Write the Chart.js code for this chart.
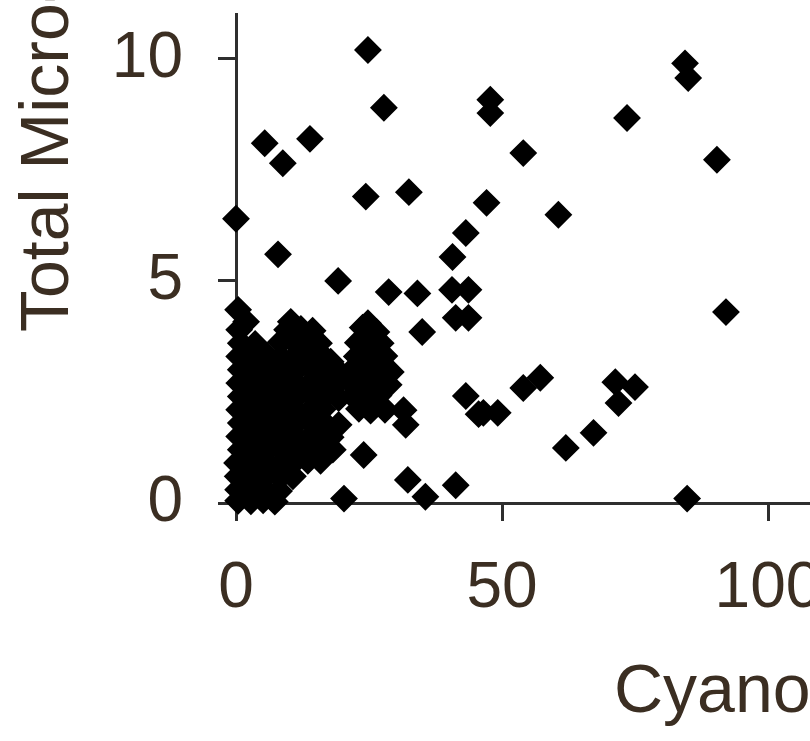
<!DOCTYPE html>
<html>
<head>
<meta charset="utf-8">
<script src="https://cdn.jsdelivr.net/npm/chart.js@4.4.0/dist/chart.umd.min.js"></script>
<style>
    html, body { margin: 0; padding: 0; background: #fff; overflow: hidden; }
    #marco { position: relative; width: 1100px; height: 741px; }
</style>
</head>
<body>
<div id="marco"><canvas id="graficoDispersion" width="1100" height="741"></canvas></div>
<script>
// Cianobacterias (eje X) y microcistina total (eje Y)
const cyano = [
    // puntos aislados
    24.8, 27.8, 5.4, 8.8, 13.9, 24.4, 32.5, 0.0, 7.9, 19.2,
    47.8, 47.8, 47.1, 43.2, 40.7, 28.7, 34.1, 40.6, 43.7, 41.3,
    43.7, 35.0, 84.4, 85.0, 73.5, 54.0, 90.4, 60.6, 92.1, 43.2,
    45.6, 46.5, 49.2, 54.0, 57.2, 71.3, 75.0, 71.9, 67.2, 62.0,
    84.8, 32.3, 35.6, 41.3, 31.5, 31.9, 24.0, 20.3,
    // nube cerca del origen
    0.4, 2.8, 5.1, 7.3,
    0.4, 2.8, 5.4, 8.1,
    0.3, 3.0, 5.6, 8.3, 10.7,
    0.2, 3.0, 5.6, 8.3, 10.9, 13.5, 15.9,
    0.9, 3.6, 6.2, 8.8, 11.4, 14.1, 16.7, 18.2,
    0.6, 3.2, 5.8, 8.4, 11.1, 13.7, 16.3, 17.8,
    0.9, 3.6, 6.2, 8.8, 11.4, 14.1, 16.7, 19.3,
    0.6, 3.2, 5.8, 8.4, 11.1, 13.7, 16.3, 23.1, 25.3, 28.0,
    0.9, 3.6, 6.2, 8.8, 11.4, 14.1, 16.7, 19.3, 22.0, 24.6, 26.8,
    0.6, 3.2, 5.8, 8.4, 11.1, 13.7, 16.3, 19.0, 21.6, 24.2, 26.8, 28.7,
    0.9, 3.6, 6.2, 8.8, 11.4, 14.1, 16.7, 19.3, 22.0, 24.6, 27.2, 29.1,
    0.6, 3.2, 5.8, 8.4, 11.1, 13.7, 16.3, 17.8, 22.7, 25.3, 27.9,
    0.9, 3.6, 8.4, 11.1, 13.7, 15.6, 22.9, 24.6, 27.2,
    0.6, 9.6, 12.2, 14.4, 23.8, 26.4, 24.8,
    0.4, 1.9, 10.3
];
const microcistina = [
    10.2, 8.9, 8.1, 7.65, 8.2, 6.9, 7.0, 6.4, 5.6, 5.0,
    9.08, 8.78, 6.76, 6.08, 5.54, 4.75, 4.72, 4.8, 4.8, 4.17,
    4.17, 3.85, 9.9, 9.57, 8.67, 7.88, 7.73, 6.49, 4.3, 2.41,
    2.0, 2.03, 2.03, 2.59, 2.82, 2.72, 2.61, 2.25, 1.58, 1.24,
    0.1, 0.52, 0.14, 0.4, 2.09, 1.76, 1.08, 0.1,
    0.05, 0.04, 0.06, 0.03,
    0.3, 0.28, 0.31, 0.27,
    0.6, 0.57, 0.62, 0.58, 0.6,
    0.9, 0.88, 0.91, 0.87, 0.92, 0.95, 0.95,
    1.2, 1.17, 1.22, 1.18, 1.2, 1.21, 1.17, 1.2,
    1.5, 1.47, 1.52, 1.48, 1.5, 1.46, 1.51, 1.48,
    1.8, 1.78, 1.82, 1.77, 1.8, 1.83, 1.79, 1.76,
    2.1, 2.07, 2.12, 2.08, 2.1, 2.06, 2.11, 2.12, 2.08, 2.1,
    2.4, 2.38, 2.42, 2.37, 2.4, 2.43, 2.39, 2.36, 2.41, 2.38, 2.42,
    2.7, 2.67, 2.72, 2.68, 2.7, 2.66, 2.71, 2.69, 2.72, 2.68, 2.7, 2.66,
    3.0, 2.97, 3.02, 2.98, 3.0, 3.03, 2.99, 2.96, 3.01, 2.98, 3.02, 2.95,
    3.3, 3.27, 3.32, 3.28, 3.3, 3.26, 3.31, 3.18, 3.3, 3.27, 3.31,
    3.6, 3.58, 3.62, 3.6, 3.57, 3.6, 3.61, 3.58, 3.6,
    3.9, 3.9, 3.92, 3.88, 3.95, 3.85, 4.05,
    4.35, 4.08, 4.08
];

// Marcas de los ejes
const ticksX = [0, 50, 100, 150];
const ticksY = [0, 5, 10];
const tituloX = 'Cyanobacteria';
const tituloY = 'Total Microcystin (µg/L)';

const colorTexto = '#3b2e22';
const colorEje = '#2e2e2e';
const fuente = '"Liberation Sans", Arial, sans-serif';

const puntos = cyano.map((x, i) => ({ x: x, y: microcistina[i] }));

// Títulos de los ejes dibujados aparte
const titulosEjes = {
    id: 'titulosEjes',
    afterDraw(chart) {
        const ctx = chart.ctx;
        const area = chart.chartArea;
        ctx.save();
        ctx.fillStyle = colorTexto;
        ctx.font = '68px ' + fuente;
        ctx.textAlign = 'left';
        ctx.textBaseline = 'alphabetic';
        ctx.fillText(tituloX, area.left + 378, 712);
        ctx.translate(68, area.bottom - 171);
        ctx.rotate(-Math.PI / 2);
        ctx.fillText(tituloY, 0, 0);
        ctx.restore();
    }
};

const ctx = document.getElementById('graficoDispersion').getContext('2d');
const miGrafico = new Chart(ctx, {
    type: 'scatter',
    data: {
        datasets: [{
            data: puntos,
            pointStyle: 'rectRot',
            pointRadius: 12.5,
            pointHoverRadius: 12.5,
            backgroundColor: '#000',
            borderColor: '#000',
            borderWidth: 2,
            clip: false
        }]
    },
    options: {
        responsive: false,
        animation: false,
        events: [],
        layout: { padding: { top: 14, left: 0, right: 66, bottom: 0 } },
        plugins: { legend: { display: false }, tooltip: { enabled: false } },
        scales: {
            x: {
                type: 'linear',
                min: 0,
                max: 150,
                afterBuildTicks: s => { s.ticks = ticksX.map(v => ({ value: v })); },
                afterFit: s => { s.height = 238; s.paddingLeft = 0; s.paddingRight = 0; },
                grid: { drawOnChartArea: false, drawTicks: true, tickLength: 18, tickColor: colorEje, tickWidth: 3 },
                border: { display: true, color: colorEje, width: 3 },
                ticks: { color: colorTexto, font: { family: fuente, size: 64 }, padding: 30, maxRotation: 0, autoSkip: false }
            },
            y: {
                type: 'linear',
                min: 0,
                max: 11,
                afterBuildTicks: s => { s.ticks = ticksY.map(v => ({ value: v })); },
                afterFit: s => { s.width = 236; s.paddingTop = 0; s.paddingBottom = 0; },
                grid: { drawOnChartArea: false, drawTicks: true, tickLength: 18, tickColor: colorEje, tickWidth: 3 },
                border: { display: true, color: colorEje, width: 3 },
                ticks: { color: colorTexto, font: { family: fuente, size: 64 }, padding: 35 }
            }
        }
    },
    plugins: [titulosEjes]
});
</script>
</body>
</html>
